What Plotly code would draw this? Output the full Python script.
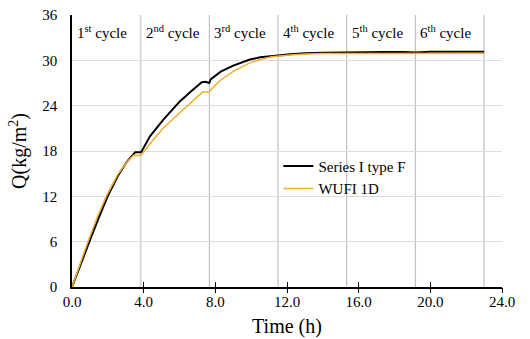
import plotly.graph_objects as go

# Series I type F (measured)
t_meas = [0, 0.5, 0.97, 1.49, 1.99, 2.6, 3.07, 3.53, 3.85, 3.9, 4.35, 5.1, 6.03, 6.7,
          7.24, 7.45, 7.66, 7.75, 8.3, 9.0, 9.93, 10.5, 11.14, 11.5, 12.17, 13.0, 14.0,
          15.0, 15.33, 16.5, 17.5, 18.5, 19.17, 20.0, 21.0, 22.0, 23.0]
q_meas = [0, 3.2, 6.0, 9.14, 12.0, 14.87, 16.6, 17.85, 17.85, 18.0, 19.95, 22.15, 24.6, 26.0,
          27.1, 27.15, 27.0, 27.5, 28.5, 29.3, 30.1, 30.4, 30.6, 30.65, 30.8, 30.95, 31.0,
          31.05, 31.0, 31.05, 31.1, 31.1, 31.05, 31.15, 31.15, 31.2, 31.15]

# WUFI 1D (simulated)
t_wufi = [0, 0.45, 0.89, 1.39, 1.91, 2.55, 3.05, 3.44, 3.85, 4.5, 5.1, 6.03, 7.29, 7.66,
          7.75, 8.3, 9.0, 9.93, 10.5, 11.14, 11.6, 12.17, 13.0, 14.0, 16.0, 18.0, 20.0, 23.0]
q_wufi = [0, 3.1, 6.0, 9.14, 12.0, 14.87, 16.5, 17.45, 17.4, 19.4, 21.05, 23.1, 25.8, 25.8,
          26.1, 27.4, 28.55, 29.66, 30.1, 30.46, 30.6, 30.7, 30.85, 30.9, 30.9, 30.92, 30.95, 30.95]

cycle_starts = [0, 3.83, 7.67, 11.5, 15.33, 19.17]
cycle_ends = [3.83, 7.67, 11.5, 15.33, 19.17, 23.0]
cycle_labels = ["1<sup>st</sup> cycle", "2<sup>nd</sup> cycle", "3<sup>rd</sup> cycle",
                "4<sup>th</sup> cycle", "5<sup>th</sup> cycle", "6<sup>th</sup> cycle"]

x_ticks = [0, 4, 8, 12, 16, 20, 24]
y_ticks = [0, 6, 12, 18, 24, 30, 36]

FONT = "Times New Roman"

fig = go.Figure()

fig.add_trace(go.Scatter(x=t_meas, y=q_meas, mode="lines", name="Series I type F",
                         line=dict(color="#000000", width=2)))
fig.add_trace(go.Scatter(x=t_wufi, y=q_wufi, mode="lines", name="WUFI 1D",
                         line=dict(color="#F0B030", width=1.5)))
# invisible carriers for the tick-mark overlay axes
fig.add_trace(go.Scatter(x=[0, 24], y=[0, 0], xaxis="x2", mode="lines",
                         line=dict(width=0), showlegend=False, hoverinfo="skip"))
fig.add_trace(go.Scatter(x=[0, 24], y=[0, 0], xaxis="x3", mode="lines",
                         line=dict(width=0), showlegend=False, hoverinfo="skip"))

# cycle boundary lines
for i, xe in enumerate(cycle_ends):
    fig.add_shape(type="line", x0=xe, x1=xe, y0=0, y1=36, xref="x", yref="y",
                  line=dict(color="#d9d9d9" if i == 0 else "#c0c0c0",
                            width=2 if i == 0 else 1.2),
                  layer="below")

for xs, lab in zip(cycle_starts, cycle_labels):
    fig.add_annotation(x=xs, y=33.8, text=lab, showarrow=False, xanchor="left",
                       xshift=3, font=dict(family=FONT, size=15, color="#000"))

fig.update_layout(
    width=530, height=339,
    margin=dict(l=72, r=28, t=15, b=52),
    paper_bgcolor="white", plot_bgcolor="white",
    font=dict(family=FONT, color="#000"),
    showlegend=True,
    legend=dict(x=0.48, y=0.505, xanchor="left", yanchor="top",
                bgcolor="rgba(0,0,0,0)", font=dict(family=FONT, size=15),
                itemwidth=30, tracegroupgap=0),
    xaxis=dict(range=[0, 24], tickvals=x_ticks, ticktext=[f"{v:.1f}" for v in x_ticks],
               showgrid=False, zeroline=False, showline=True, linecolor="#000",
               linewidth=1.5, ticks="", tickfont=dict(family=FONT, size=15),
               automargin=False,
               title=dict(text="Time (h)", font=dict(family=FONT, size=20), standoff=10)),
    xaxis2=dict(range=[0, 24], tickvals=x_ticks[1:], overlaying="x", anchor="y",
                side="bottom", showticklabels=False, ticks="outside", ticklen=5,
                tickwidth=1.3, tickcolor="#000", showgrid=False, zeroline=False,
                showline=False),
    xaxis3=dict(range=[0, 24], tickvals=x_ticks[1:], overlaying="x", anchor="y",
                side="bottom", showticklabels=False, ticks="inside", ticklen=5,
                tickwidth=1.3, tickcolor="#000", showgrid=False, zeroline=False,
                showline=False),
    yaxis=dict(range=[0, 36], tickvals=y_ticks, showgrid=True, gridcolor="#dcdcdc",
               gridwidth=1.2, zeroline=False, showline=True, linecolor="#000",
               linewidth=1.5, ticks="", tickfont=dict(family=FONT, size=15),
               ticklabelstandoff=10, automargin=False,
               title=dict(text="Q(kg/m<sup>2</sup>)", font=dict(family=FONT, size=20),
                          standoff=10)),
)

fig.write_html("out.html")
